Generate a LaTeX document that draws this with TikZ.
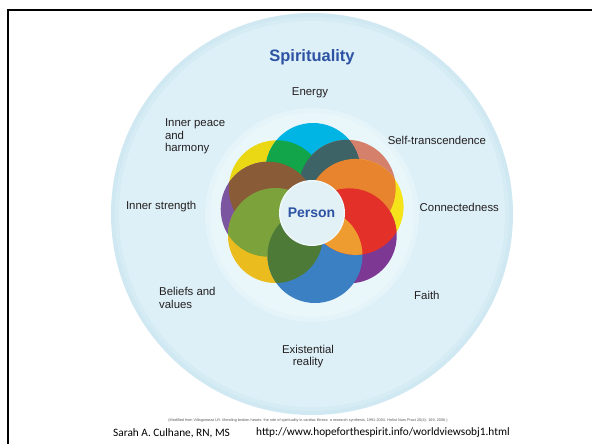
\documentclass[tikz,border=0pt]{standalone}
\usepackage{fontspec}
\setmainfont{Liberation Sans}
\newfontfamily\calfont{Carlito}
\definecolor{rimblue}{HTML}{CFE8F2}
\definecolor{skyblue}{HTML}{DDF0F7}
\definecolor{halo}{HTML}{E9F6FA}
\definecolor{personfill}{HTML}{E2F1F6}
\definecolor{titleblue}{HTML}{2D52A3}
\definecolor{labelgray}{HTML}{231F20}
\definecolor{pcyan}{HTML}{00B4E4}
\definecolor{pgreen}{HTML}{12A54A}
\definecolor{pteal}{HTML}{3D6366}
\definecolor{psalmon}{HTML}{D4806A}
\definecolor{porange}{HTML}{E8832E}
\definecolor{pyellowE}{HTML}{F6E41A}
\definecolor{pred}{HTML}{E3312A}
\definecolor{ppurpleSE}{HTML}{7C3893}
\definecolor{plorange}{HTML}{EE9C30}
\definecolor{pblue}{HTML}{3A80C3}
\definecolor{pdgreen}{HTML}{4E7A37}
\definecolor{pgold}{HTML}{EBBC1E}
\definecolor{polive}{HTML}{7BA23B}
\definecolor{ppurpleW}{HTML}{7B55A0}
\definecolor{pbrown}{HTML}{895B36}
\definecolor{pyellowNW}{HTML}{EBD814}
\tikzset{
  lbl/.style={font=\fontsize{11.4}{12.5}\selectfont, text=labelgray, inner sep=0pt, align=left},
  lblc/.style={font=\fontsize{11.4}{12.5}\selectfont, text=labelgray, inner sep=0pt, align=center},
  frameline/.style={line width=2pt, black}
}
\begin{document}
\begin{tikzpicture}[x=1pt,y=-1pt]
\useasboundingbox (0,0) rectangle (592,444);
\fill[white] (0,0) rectangle (592,444);
% frame
\coordinate (fTL) at (7.5,10);
\coordinate (fTR) at (592,10);
\coordinate (fBL) at (7.5,444);
\draw[frameline] (fTR) -- (fTL) -- (fBL);
% background discs
\coordinate (ctr) at (312,214);
\fill[rimblue] (ctr) circle (201pt);
\fill[rimblue!50!skyblue] (ctr) circle (197pt);
\fill[skyblue] (ctr) circle (193pt);
\fill[halo!60!skyblue] (312,215) circle (107pt);
\fill[halo] (312,215) circle (102pt);
% petal centres
\coordinate (cC) at (313,170.5);
\coordinate (cS) at (347.2,188.3);
\coordinate (cY) at (355.6,206.9);
\coordinate (cP) at (349.2,235.8);
\coordinate (cB) at (315,255.5);
\coordinate (cG) at (275.5,235.5);
\coordinate (cW) at (268.2,209.2);
\coordinate (cN) at (276.8,188.3);
% base petals
\fill[pyellowNW] (cN) circle (48pt);
\fill[pcyan] (cC) circle (47.5pt);
\fill[psalmon] (cS) circle (48.5pt);
\fill[pyellowE] (cY) circle (48pt);
\fill[ppurpleSE] (cP) circle (47.5pt);
\fill[ppurpleW] (cW) circle (47.5pt);
\fill[pgold] (cG) circle (47.5pt);
\fill[pblue] (cB) circle (47.5pt);
% overlaps
\begin{scope}\clip (cC) circle (47.5pt); \fill[pgreen] (cN) circle (48pt);\end{scope}
\begin{scope}\clip (cC) circle (47.5pt); \fill[pteal] (cS) circle (48.5pt);\end{scope}
\begin{scope}\clip (cW) circle (47.5pt); \fill[pbrown] (cN) circle (48pt);\end{scope}
\begin{scope}\clip (cW) circle (47.5pt); \fill[polive] (cG) circle (47.5pt);\end{scope}
\begin{scope}\clip (cG) circle (47.5pt); \fill[pdgreen] (cB) circle (47.5pt);\end{scope}
\begin{scope}\clip (cS) circle (48.5pt); \fill[porange] (cY) circle (48pt);\end{scope}
\begin{scope}\clip (cY) circle (48pt); \fill[pred] (cP) circle (47.5pt);\end{scope}
\begin{scope}\clip (cY) circle (48pt); \clip (cP) circle (47.5pt); \fill[plorange] (cB) circle (47.5pt);\end{scope}
% person
\fill[white!40!personfill] (312,213) circle (33pt);
\fill[personfill] (312,213) circle (31.5pt);
\node[font=\bfseries\fontsize{14}{16}\selectfont, text=titleblue, inner sep=0pt] (person) at (311.5,213) {Person};
% title
\node[font=\bfseries\fontsize{16.5}{18}\selectfont, text=titleblue, inner sep=0pt] (spirit) at (312,57) {Spirituality};
% labels
\node[lblc] (energy) at (310,93) {Energy};
\node[lbl, anchor=west] (peace) at (164.8,136.5) {Inner peace\\and\\harmony};
\node[lbl, anchor=west] (selft) at (387.6,140) {Self-transcendence};
\node[lbl, anchor=west] (strength) at (125.8,207) {Inner strength};
\node[lbl, anchor=west] (connect) at (419.5,207) {Connectedness};
\node[lbl, anchor=west] (beliefs) at (159,298) {Beliefs and\\values};
\node[lbl, anchor=west] (faith) at (414,295) {Faith};
\node[lblc] (exist) at (308,356.5) {Existential\\reality};
% caption
\node[font=\fontsize{3.8}{4}\selectfont, text=black!65, inner sep=0pt] (caption) at (308,420.5) {(Modified from Villagomeza LR. Mending broken hearts: the role of spirituality in cardiac illness: a research synthesis, 1991-2004. Holist Nurs Pract 20(4): 169, 2006.)};
\node[font=\calfont\fontsize{11.3}{13}\selectfont, text=black, inner sep=0pt, anchor=west] (author) at (113,433) {Sarah A. Culhane, RN, MS};
\node[font=\calfont\fontsize{11.3}{13}\selectfont, text=black, inner sep=0pt, anchor=west] (url) at (256,433) {http://www.hopeforthespirit.info/worldviewsobj1.html};
\end{tikzpicture}
\end{document}
